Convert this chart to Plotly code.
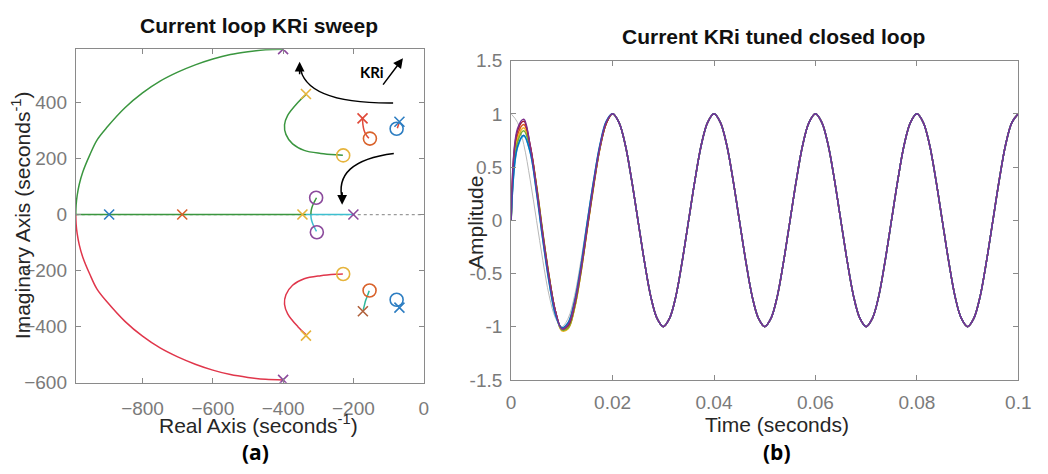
import plotly.graph_objects as go

W, H = 1048, 474

# ---------------- Panel (a): root locus data ----------------
upper_arc_re = [-400, -450, -500, -550, -600, -650, -700, -750, -800, -850, -900, -930, -950, -970, -980, -986, -989, -990]
upper_arc_im = [590, 588, 581, 571, 555, 534, 508, 476, 434, 381, 313, 265, 213, 152, 108, 68, 34, 0]
lower_arc_re = [-400, -450, -500, -550, -600, -650, -700, -750, -800, -850, -900, -930, -950, -970, -980, -986, -989, -990]
lower_arc_im = [-590, -588, -581, -571, -555, -534, -508, -476, -434, -381, -313, -265, -213, -152, -108, -68, -34, 0]

real_green_re = [-990, -335]
real_green_im = [0, 0]
real_cyan_re = [-335, -200]
real_cyan_im = [0, 0]

vert_up_re = [-321, -320, -316, -310, -305]
vert_up_im = [0, 15, 32, 48, 60]
vert_dn_re = [-321, -320, -316, -310, -305]
vert_dn_im = [0, -15, -32, -48, -60]

mid_up_re = [-335, -358, -387, -396, -392, -373, -340, -293, -248, -230]
mid_up_im = [428, 400, 354, 320, 286, 252, 229, 218, 213, 212]
mid_dn_re = [-335, -358, -387, -396, -392, -373, -340, -293, -248, -230]
mid_dn_im = [-428, -400, -354, -320, -286, -252, -229, -218, -213, -212]

small_up_re = [-174, -173, -170, -164, -156]
small_up_im = [342, 322, 302, 285, 272]
small_dn_re = [-155, -160, -165, -169, -172]
small_dn_im = [-272, -290, -306, -325, -340]

blue_seg_re = [-69, -72, -75]
blue_seg_im = [331, 318, 308]

# poles (x) and zeros (o)
pole_purple_re = [-400, -400, -200]
pole_purple_im = [590, -590, 0]
pole_blue_re = [-895, -69, -69]
pole_blue_im = [0, 331, -332]
pole_orange_re = [-687]
pole_orange_im = [0]
pole_red_re = [-174]
pole_red_im = [343]
pole_brown_re = [-173]
pole_brown_im = [-345]
pole_yellow_re = [-345, -335, -335]
pole_yellow_im = [0, 430, -432]

zero_yellow_re = [-229, -229]
zero_yellow_im = [211, -212]
zero_red_re = [-153, -154]
zero_red_im = [271, -271]
zero_blue_re = [-77, -77]
zero_blue_im = [306, -304]
zero_purple_re = [-306, -304]
zero_purple_im = [60, -63]

# ---------------- Panel (b): time responses ----------------
t_ms_start = [0, 1.25, 2.5, 3.75, 5, 6.25, 7.5, 8.75, 10, 11.25, 12.5, 13.75, 15, 16.25, 17.5, 18.75]
steady_vals = [1, 0.92, 0.71, 0.38, 0, -0.38, -0.71, -0.92, -1, -0.92, -0.71, -0.38, 0, 0.38, 0.71, 0.92,
               1, 0.92, 0.71, 0.38, 0, -0.38, -0.71, -0.92, -1, -0.92, -0.71, -0.38, 0, 0.38, 0.71, 0.92,
               1, 0.92, 0.71, 0.38, 0, -0.38, -0.71, -0.92, -1, -0.92, -0.71, -0.38, 0, 0.38, 0.71, 0.92,
               1, 0.92, 0.71, 0.38, 0, -0.38, -0.71, -0.92, -1, -0.92, -0.71, -0.38, 0, 0.38, 0.71, 0.92,
               1]
t_ms_steady = [20 + 1.25 * i for i in range(len(steady_vals))]

ref_start = [1, 0.92, 0.71, 0.38, 0, -0.38, -0.71, -0.92, -1, -0.92, -0.71, -0.38, 0, 0.38, 0.71, 0.92]
resp_orange = [0, 0.80, 0.90, 0.70, 0.32, -0.13, -0.54, -0.86, -1.03, -1.01, -0.82, -0.49, -0.08, 0.32, 0.68, 0.91]
resp_yellow = [0, 0.76, 0.87, 0.69, 0.33, -0.12, -0.53, -0.86, -1.04, -1.02, -0.83, -0.50, -0.09, 0.31, 0.67, 0.91]
resp_green = [0, 0.73, 0.84, 0.67, 0.32, -0.12, -0.53, -0.86, -1.03, -1.01, -0.82, -0.49, -0.08, 0.32, 0.68, 0.91]
resp_red = [0, 0.84, 0.93, 0.70, 0.31, -0.14, -0.54, -0.86, -1.02, -0.99, -0.80, -0.47, -0.07, 0.33, 0.68, 0.91]
resp_cyan = [0, 0.68, 0.79, 0.64, 0.27, -0.18, -0.58, -0.89, -1.02, -0.97, -0.77, -0.44, -0.03, 0.36, 0.70, 0.93]
resp_blue = [0, 0.69, 0.80, 0.64, 0.26, -0.19, -0.59, -0.89, -1.01, -0.96, -0.76, -0.43, -0.02, 0.37, 0.71, 0.93]
resp_purple = [0, 0.86, 0.95, 0.70, 0.30, -0.15, -0.55, -0.86, -1.02, -0.98, -0.78, -0.46, -0.06, 0.34, 0.69, 0.92]

# ---------------- Styling ----------------
FONT = "Liberation Sans, Arial, sans-serif"
AX_GRAY = "#8a8a8a"
TICK_GRAY = "#7a7a7a"

C_GREEN = "#3A963F"
C_RED = "#E0364B"
C_CYAN = "#3DBFD0"
C_TEAL = "#2DB89A"
C_PURPLE = "#8B4A9C"
C_BLUE = "#2E7EC2"
C_ORANGE = "#D9622B"
C_YELLOW = "#E6B43C"
C_REDX = "#E04A3A"
C_BROWN = "#B0603A"

fig = go.Figure()


def line(xs, ys, color, xa="x", ya="y", width=1.5, shape="spline", dash=None):
    fig.add_trace(go.Scatter(x=xs, y=ys, mode="lines", xaxis=xa, yaxis=ya,
                             line=dict(color=color, width=width, shape=shape, dash=dash),
                             hoverinfo="skip", showlegend=False))


def marks(xs, ys, color, symbol, size):
    fig.add_trace(go.Scatter(x=xs, y=ys, mode="markers", xaxis="x", yaxis="y",
                             marker=dict(symbol=symbol, size=size, color=color,
                                         line=dict(color=color, width=1.6)),
                             hoverinfo="skip", showlegend=False))


# dotted real axis
line([-990, 0], [0, 0], "#9a9a9a", width=1.2, shape="linear", dash="dot")

line(upper_arc_re, upper_arc_im, C_GREEN, shape="spline")
line(lower_arc_re, lower_arc_im, C_RED, shape="spline")
line(real_green_re, real_green_im, C_GREEN, shape="linear")
line(real_cyan_re, real_cyan_im, C_CYAN, shape="linear")
line(vert_up_re, vert_up_im, C_GREEN)
line(vert_dn_re, vert_dn_im, C_CYAN)
line(mid_up_re, mid_up_im, C_GREEN)
line(mid_dn_re, mid_dn_im, C_RED)
line(small_up_re, small_up_im, C_REDX)
line(small_dn_re, small_dn_im, C_TEAL)
line(blue_seg_re, blue_seg_im, C_REDX, shape="linear")

marks(pole_purple_re, pole_purple_im, C_PURPLE, "x-thin", 10)
marks(pole_blue_re, pole_blue_im, C_BLUE, "x-thin", 10)
marks(pole_orange_re, pole_orange_im, C_ORANGE, "x-thin", 10)
marks(pole_red_re, pole_red_im, C_REDX, "x-thin", 10)
marks(pole_brown_re, pole_brown_im, C_BROWN, "x-thin", 10)
marks(pole_yellow_re, pole_yellow_im, C_YELLOW, "x-thin", 10)
marks(zero_yellow_re, zero_yellow_im, C_YELLOW, "circle-open", 13)
marks(zero_red_re, zero_red_im, C_ORANGE, "circle-open", 13)
marks(zero_blue_re, zero_blue_im, C_BLUE, "circle-open", 13)
marks(zero_purple_re, zero_purple_im, C_PURPLE, "circle-open", 13)

# time responses
t_start = [v / 1000 for v in t_ms_start]
t_steady = [v / 1000 for v in t_ms_steady]
t_all = t_start + t_steady

line(t_all, ref_start + steady_vals, "#b8b8b8", "x2", "y2", width=1.0)
for vals, col in [(resp_orange, "#D95319"), (resp_yellow, "#EDB120"), (resp_green, "#77AC30"),
                  (resp_red, "#A2142F"), (resp_cyan, "#4DBEEE"), (resp_blue, "#0072BD"),
                  (resp_purple, "#7E2F8E")]:
    line(t_all, vals + steady_vals, col, "x2", "y2", width=1.5)


def px(x):
    return x / W


def py(y):
    return 1 - y / H


axis_common = dict(showgrid=False, zeroline=False, showline=True, linecolor=AX_GRAY, linewidth=1,
                   mirror="ticks", ticks="inside", ticklen=5, tickcolor=AX_GRAY,
                   tickfont=dict(family=FONT, size=19, color=TICK_GRAY))

fig.update_layout(
    width=W, height=H, margin=dict(l=0, r=0, t=0, b=0),
    paper_bgcolor="white", plot_bgcolor="white", showlegend=False,
    xaxis=dict(domain=[px(72), px(426)], range=[-990, 0], anchor="y",
               tickvals=[-800, -600, -400, -200, 0], ticklabelstandoff=8, **axis_common),
    yaxis=dict(domain=[py(390), py(41)], range=[-600, 590], anchor="x",
               tickvals=[-600, -400, -200, 0, 200, 400], ticklabelstandoff=4, **axis_common),
    xaxis2=dict(domain=[px(515), px(1031)], range=[0, 0.1], anchor="y2",
                tickvals=[0, 0.02, 0.04, 0.06, 0.08, 0.1],
                ticktext=["0", "0.02", "0.04", "0.06", "0.08", "0.1"], ticklabelstandoff=5, **axis_common),
    yaxis2=dict(domain=[py(387), py(53)], range=[-1.5, 1.5], anchor="x2",
                tickvals=[-1.5, -1, -0.5, 0, 0.5, 1, 1.5],
                ticktext=["-1.5", "-1", "-0.5", "0", "0.5", "1", "1.5"], ticklabelstandoff=4, **axis_common),
)

# curved arrows on the root locus (data-space paths)
fig.add_shape(type="path", xref="x", yref="y",
              path="M -87,398 Q -340,395 -352,530", line=dict(color="black", width=1.5))
fig.add_shape(type="path", xref="x", yref="y",
              path="M -85,218 Q -260,190 -231,50", line=dict(color="black", width=1.5))


def note(x, y, text, size, family=FONT, color="#262626", angle=0):
    return dict(x=px(x), y=py(y), xref="paper", yref="paper", text=text, showarrow=False,
                xanchor="center", yanchor="middle", textangle=angle,
                font=dict(family=family, size=size, color=color))


annotations = [
    dict(x=-353, y=545, xref="x", yref="y", text="", showarrow=True, arrowhead=2, arrowsize=1.3,
         arrowwidth=1.5, arrowcolor="black", ax=0, ay=14),
    dict(x=-232, y=35, xref="x", yref="y", text="", showarrow=True, arrowhead=2, arrowsize=1.3,
         arrowwidth=1.5, arrowcolor="black", ax=0, ay=-14),
    dict(x=-59, y=558, xref="x", yref="y", text="", showarrow=True, arrowhead=2, arrowsize=1.3,
         arrowwidth=1.5, arrowcolor="black", ax=-21, ay=28),
    note(373, 65, "<b>KRi</b>", 15, family="Lato, Open Sans, sans-serif", color="black"),
    note(258, 16, "<b>Current loop KRi sweep</b>", 21, color="#111"),
    note(782, 28, "<b>Current KRi tuned closed loop</b>", 21, color="#111"),
    note(258, 433, "Real Axis (seconds<sup>-1</sup>)", 21),
    note(785, 434, "Time (seconds)", 21),
    note(17, 215, "Imaginary Axis (seconds<sup>-1</sup>)", 21, angle=-90),
    note(478, 222, "Amplitude", 21, angle=-90),
    note(255, 462, "<b>(a)</b>", 21, family="Open Sans, sans-serif", color="black"),
    note(785, 462, "<b>(b)</b>", 21, family="Open Sans, sans-serif", color="black"),
]
fig.update_layout(annotations=annotations)

fig.write_html("out.html", config={"displayModeBar": False},
               post_script="document.body.style.margin='0';document.body.style.padding='0';")
